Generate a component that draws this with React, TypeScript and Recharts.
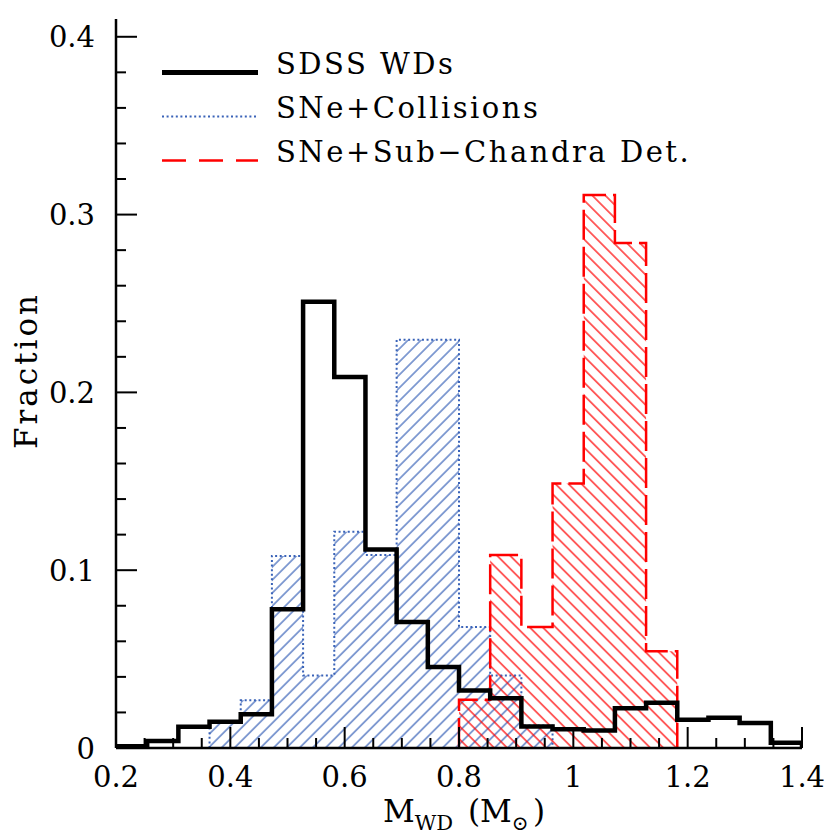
import React from 'react';
import { ComposedChart, Area, XAxis, YAxis, Legend } from 'recharts';

// histogram binning: 22 equal bins between 0.2 and 1.4 Msun
const X_MIN = 0.2;
const X_MAX = 1.4;
const N_BINS = 22;
const binEdges = Array.from({ length: N_BINS + 1 }, (_, k) => X_MIN + (k * (X_MAX - X_MIN)) / N_BINS);

// fractions per bin
const sdssWDs = [
  0.001, 0.004, 0.012, 0.0148, 0.019, 0.078, 0.251, 0.2086, 0.1117, 0.0709, 0.0455,
  0.0324, 0.028, 0.0121, 0.0105, 0.0098, 0.0224, 0.0255, 0.0159, 0.017, 0.014, 0.003
];
const sdssStartBin = 0;

const sneCollisions = [0.014, 0.0268, 0.108, 0.0408, 0.1216, 0.1085, 0.2296, 0.2296, 0.068, 0.0408, 0.0127];
const collisionsStartBin = 3;

const sneSubChandra = [0.0271, 0.1085, 0.068, 0.1488, 0.311, 0.284, 0.0544];
const subChandraStartBin = 11;

const xMajorTicks = [0.2, 0.4, 0.6, 0.8, 1, 1.2, 1.4];
const xTicks = [
  0.2, 0.25, 0.3, 0.35, 0.4, 0.45, 0.5, 0.55, 0.6, 0.65, 0.7, 0.75, 0.8,
  0.85, 0.9, 0.95, 1, 1.05, 1.1, 1.15, 1.2, 1.25, 1.3, 1.35, 1.4
];
const yMajorTicks = [0, 0.1, 0.2, 0.3, 0.4];
const yTicks = [
  0, 0.02, 0.04, 0.06, 0.08, 0.1, 0.12, 0.14, 0.16, 0.18, 0.2,
  0.22, 0.24, 0.26, 0.28, 0.3, 0.32, 0.34, 0.36, 0.38, 0.4
];

const FONT = '"DejaVu Serif", "Liberation Serif", serif';
const txt = { fontFamily: FONT };
const BLUE = '#3a63b8';
const RED = '#ff0000';

// turn bin values into closed step outline points
function toSteps(values: number[], startBin: number) {
  const pts = [{ x: binEdges[startBin], y: 0 }];
  values.forEach((v, i) => pts.push({ x: binEdges[startBin + i], y: v }));
  const end = binEdges[startBin + values.length];
  pts.push({ x: end, y: values[values.length - 1] });
  pts.push({ x: end, y: 0 });
  return pts;
}

const sdssData = toSteps(sdssWDs, sdssStartBin);
const collisionsData = toSteps(sneCollisions, collisionsStartBin);
const subChandraData = toSteps(sneSubChandra, subChandraStartBin);

const isMajor = (v: number, majors: number[]) => majors.some((m) => Math.abs(m - v) < 1e-6);

const MAJOR_LEN = 21;
const MINOR_LEN = 10;

const BottomTick = ({ x, y, payload }: any) => {
  const major = isMajor(payload.value, xMajorTicks);
  return (
    <g>
      <line x1={x} y1={y} x2={x} y2={y - (major ? MAJOR_LEN : MINOR_LEN)} stroke="#000" strokeWidth={2} />
      {major && (
        <text x={x} y={y + 39} textAnchor="middle" style={txt} fontSize={29} fill="#000">
          {String(payload.value)}
        </text>
      )}
    </g>
  );
};

const TopTick = ({ x, y, payload }: any) => {
  const major = isMajor(payload.value, xMajorTicks);
  return <line x1={x} y1={y} x2={x} y2={y + (major ? MAJOR_LEN : MINOR_LEN)} stroke="#000" strokeWidth={2} />;
};

const LeftTick = ({ x, y, payload }: any) => {
  const major = isMajor(payload.value, yMajorTicks);
  return (
    <g>
      <line x1={x} y1={y} x2={x + (major ? MAJOR_LEN : MINOR_LEN)} y2={y} stroke="#000" strokeWidth={2} />
      {major && (
        <text x={x - 21} y={y + 10.5} textAnchor="end" style={txt} fontSize={29} fill="#000">
          {String(payload.value)}
        </text>
      )}
    </g>
  );
};

const RightTick = ({ x, y, payload }: any) => {
  const major = isMajor(payload.value, yMajorTicks);
  return <line x1={x} y1={y} x2={x - (major ? MAJOR_LEN : MINOR_LEN)} y2={y} stroke="#000" strokeWidth={2} />;
};

const XTitle = (props: any) => {
  const vb = props.viewBox;
  const left = vb.x + vb.width / 2 - 76;
  const base = vb.y + 74;
  return (
    <text x={left} y={base} style={txt} fontSize={31} fill="#000">
      M
      <tspan fontSize={21} dy={8}>WD</tspan>
      <tspan x={left + 85} dy={-8}>(M</tspan>
      <tspan fontSize={20} dy={8}>⊙</tspan>
      <tspan x={left + 150} dy={-8}>)</tspan>
    </text>
  );
};

const YTitle = (props: any) => {
  const vb = props.viewBox;
  const cx = vb.x + 37;
  const cy = vb.y + vb.height / 2 - 13;
  return (
    <text
      transform={`translate(${cx}, ${cy}) rotate(-90)`}
      textAnchor="middle"
      style={txt}
      fontSize={31}
      letterSpacing={3}
      fill="#000"
    >
      Fraction
    </text>
  );
};

const legendItems = [
  { name: 'SDSS WDs', color: '#000', width: 5, dash: undefined },
  { name: 'SNe+Collisions', color: BLUE, width: 2, dash: '2 2.6' },
  { name: 'SNe+Sub\u2212Chandra Det.', color: RED, width: 2.5, dash: '24 13' }
];

const renderLegend = () => (
  <svg width={640} height={140}>
    {legendItems.map((item, i) => {
      const base = 34 + i * 44;
      return (
        <g key={item.name}>
          <line
            x1={12}
            x2={108}
            y1={base - 1.5}
            y2={base - 1.5}
            stroke={item.color}
            strokeWidth={item.width}
            strokeDasharray={item.dash}
          />
          <text x={126} y={base} style={txt} fontSize={29} letterSpacing={2.5} fill="#000">
            {item.name}
          </text>
        </g>
      );
    })}
  </svg>
);

export default function App() {
  return (
    <div style={{ position: 'absolute', left: 0, top: 0, width: 830, height: 840, background: '#fff' }}>
      <ComposedChart width={830} height={840} margin={{ top: 19, right: 28, bottom: 0, left: 0 }}>
        <defs>
          <pattern id="hatchBlue" width="9.2" height="10" patternUnits="userSpaceOnUse" patternTransform="rotate(45)">
            <line x1="4.6" y1="0" x2="4.6" y2="10" stroke={BLUE} strokeWidth={1.2} />
          </pattern>
          <pattern id="hatchRed" width="9.2" height="10" patternUnits="userSpaceOnUse" patternTransform="rotate(-45)">
            <line x1="4.6" y1="0" x2="4.6" y2="10" stroke={RED} strokeWidth={1.2} />
          </pattern>
        </defs>
        <XAxis
          xAxisId="bottom"
          dataKey="x"
          type="number"
          domain={[X_MIN, X_MAX]}
          ticks={xTicks}
          interval={0}
          height={92}
          tickSize={0}
          tickMargin={0}
          tickLine={false}
          tick={<BottomTick />}
          axisLine={{ stroke: '#000', strokeWidth: 2.5 }}
          allowDataOverflow
          label={XTitle}
        />
        <XAxis
          xAxisId="top"
          orientation="top"
          type="number"
          domain={[X_MIN, X_MAX]}
          ticks={xTicks}
          interval={0}
          height={0}
          tickSize={0}
          tickMargin={0}
          tickLine={false}
          tick={<TopTick />}
          axisLine={{ stroke: '#000', strokeWidth: 2.5 }}
          allowDataOverflow
        />
        <YAxis
          yAxisId="left"
          type="number"
          domain={[0, 0.41]}
          ticks={yTicks}
          interval={0}
          width={116}
          tickSize={0}
          tickMargin={0}
          tickLine={false}
          tick={<LeftTick />}
          axisLine={{ stroke: '#000', strokeWidth: 2.5 }}
          allowDataOverflow
          label={YTitle}
        />
        <YAxis
          yAxisId="right"
          orientation="right"
          type="number"
          domain={[0, 0.41]}
          ticks={yTicks}
          interval={0}
          width={0}
          tickSize={0}
          tickMargin={0}
          tickLine={false}
          tick={<RightTick />}
          axisLine={{ stroke: '#000', strokeWidth: 2.5 }}
          allowDataOverflow
        />
        <Legend
          layout="horizontal"
          verticalAlign="middle"
          align="center"
          content={renderLegend}
          wrapperStyle={{ left: 150, top: 40, width: 640 }}
        />
        <Area
          xAxisId="bottom"
          yAxisId="left"
          name="SNe+Collisions"
          data={collisionsData}
          dataKey="y"
          type="stepAfter"
          stroke={BLUE}
          strokeWidth={2}
          strokeDasharray="2 2.6"
          fill="url(#hatchBlue)"
          fillOpacity={1}
          dot={false}
          activeDot={false}
          isAnimationActive={false}
        />
        <Area
          xAxisId="bottom"
          yAxisId="left"
          name="SNe+Sub-Chandra Det."
          data={subChandraData}
          dataKey="y"
          type="stepAfter"
          stroke={RED}
          strokeWidth={2.5}
          strokeDasharray="30 7"
          fill="url(#hatchRed)"
          fillOpacity={1}
          dot={false}
          activeDot={false}
          isAnimationActive={false}
        />
        <Area
          xAxisId="bottom"
          yAxisId="left"
          name="SDSS WDs"
          data={sdssData}
          dataKey="y"
          type="stepAfter"
          stroke="#000"
          strokeWidth={4.5}
          strokeLinejoin="miter"
          fill="none"
          dot={false}
          activeDot={false}
          isAnimationActive={false}
        />
      </ComposedChart>
    </div>
  );
}
